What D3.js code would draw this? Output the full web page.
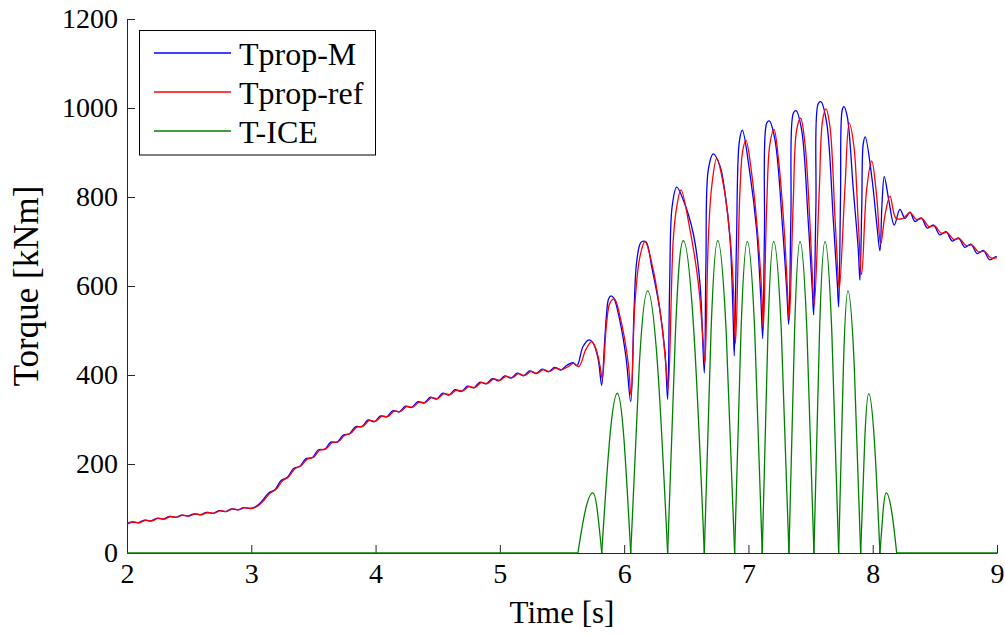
<!DOCTYPE html>
<html>
<head>
<meta charset="utf-8">
<script src="https://cdn.jsdelivr.net/npm/d3@7"></script>
<style>
  html, body { margin: 0; padding: 0; background: #fff; }
  svg { display: block; font-family: "Liberation Serif", "Times New Roman", serif; }
</style>
</head>
<body>
<svg id="chart" width="1005" height="636"></svg>
<script>
// Axis ticks
const xTicks = [2, 3, 4, 5, 6, 7, 8, 9];
const yTicks = [0, 200, 400, 600, 800, 1000, 1200];

// Series names (legend order)
const seriesNames = ["Tprop-M", "Tprop-ref", "T-ICE"];
const seriesColors = ["#0000ff", "#ff0000", "#008000"];

// Propeller torque, measured [time s, torque kNm]
const tpropM = [
  [2.00, 66], [2.04, 70], [2.09, 68], [2.14, 74], [2.19, 72], [2.24, 78], [2.29, 76], [2.34, 82],
  [2.39, 80], [2.44, 85], [2.49, 83], [2.54, 88], [2.59, 86], [2.64, 91], [2.69, 89], [2.74, 95],
  [2.79, 93], [2.84, 99], [2.89, 97], [2.94, 102], [2.99, 100], [3.04, 105], [3.09, 118], [3.14, 135],
  [3.19, 142], [3.24, 163], [3.29, 170], [3.34, 190], [3.39, 195], [3.44, 212], [3.49, 214], [3.54, 232],
  [3.59, 233], [3.64, 249], [3.69, 249], [3.74, 265], [3.79, 268], [3.84, 284], [3.89, 284], [3.94, 299],
  [3.99, 295], [4.04, 308], [4.09, 306], [4.14, 320], [4.19, 317], [4.24, 330], [4.29, 327], [4.34, 340],
  [4.39, 337], [4.44, 350], [4.49, 346], [4.54, 359], [4.59, 355], [4.64, 367], [4.69, 363], [4.74, 375],
  [4.79, 371], [4.84, 384], [4.89, 380], [4.94, 392], [4.99, 387], [5.04, 398], [5.09, 393], [5.14, 404],
  [5.19, 398], [5.24, 409], [5.29, 403], [5.34, 413], [5.39, 407], [5.44, 417], [5.49, 411], [5.54, 422],
  [5.588, 428], [5.621, 421], [5.669, 464], [5.717, 479], [5.752, 471], [5.792, 434], [5.819, 377],
  [5.842, 470], [5.858, 535], [5.874, 570], [5.894, 578], [5.918, 572], [5.967, 520], [6.015, 440], [6.053, 340],
  [6.079, 540], [6.099, 650], [6.127, 694], [6.144, 700], [6.176, 699], [6.224, 640], [6.288, 545], [6.329, 450], [6.350, 345],
  [6.366, 600], [6.386, 778], [6.423, 822], [6.476, 793], [6.556, 718], [6.610, 606], [6.645, 405],
  [6.658, 650], [6.677, 861], [6.717, 897], [6.771, 870], [6.811, 810], [6.852, 705], [6.876, 540], [6.886, 443],
  [6.904, 700], [6.927, 925], [6.951, 950], [7.012, 853], [7.066, 726], [7.099, 576], [7.115, 482],
  [7.129, 720], [7.147, 966], [7.168, 971], [7.214, 928], [7.276, 726], [7.308, 591], [7.324, 514],
  [7.342, 760], [7.361, 988], [7.383, 994], [7.428, 951], [7.482, 741], [7.514, 591], [7.525, 535],
  [7.543, 780], [7.562, 1010], [7.584, 1014], [7.630, 966], [7.683, 748], [7.715, 606], [7.726, 553],
  [7.741, 800], [7.755, 996], [7.769, 1003], [7.795, 981], [7.844, 816], [7.884, 681], [7.897, 613],
  [7.912, 780], [7.924, 920], [7.940, 935], [7.992, 846], [8.032, 741], [8.058, 679],
  [8.074, 780], [8.093, 846], [8.131, 790], [8.173, 737], [8.219, 772], [8.260, 752],
  [8.30, 766], [8.34, 745], [8.39, 753], [8.44, 730], [8.49, 737], [8.54, 715], [8.59, 722], [8.64, 701],
  [8.69, 708], [8.74, 687], [8.79, 694], [8.84, 673], [8.89, 680], [8.94, 659], [8.99, 666], [9.00, 665]
];

// Propeller torque, reference [time s, torque kNm]
const tpropRef = [
  [2.00, 65], [2.05, 70], [2.10, 68], [2.15, 74], [2.20, 72], [2.25, 78], [2.30, 76], [2.35, 82],
  [2.40, 80], [2.45, 85], [2.50, 83], [2.55, 88], [2.60, 86], [2.65, 91], [2.70, 89], [2.75, 95],
  [2.80, 93], [2.85, 99], [2.90, 97], [2.95, 102], [3.00, 100], [3.05, 105], [3.10, 118], [3.15, 134],
  [3.20, 143], [3.25, 162], [3.30, 171], [3.35, 189], [3.40, 196], [3.45, 211], [3.50, 215], [3.55, 231],
  [3.60, 234], [3.65, 248], [3.70, 250], [3.75, 264], [3.80, 269], [3.85, 283], [3.90, 285], [3.95, 298],
  [4.00, 296], [4.05, 307], [4.10, 307], [4.15, 319], [4.20, 318], [4.25, 329], [4.30, 328], [4.35, 339],
  [4.40, 338], [4.45, 349], [4.50, 347], [4.55, 358], [4.60, 356], [4.65, 366], [4.70, 364], [4.75, 374],
  [4.80, 372], [4.85, 383], [4.90, 381], [4.95, 391], [5.00, 388], [5.05, 397], [5.10, 394], [5.15, 403],
  [5.20, 399], [5.25, 408], [5.30, 404], [5.35, 412], [5.40, 408], [5.45, 416], [5.50, 412], [5.55, 419],
  [5.59, 426], [5.635, 419], [5.693, 458], [5.739, 475], [5.774, 458], [5.806, 420], [5.824, 392],
  [5.859, 517], [5.886, 562], [5.921, 571], [5.967, 531], [6.033, 427], [6.055, 355],
  [6.087, 562], [6.127, 666], [6.168, 700], [6.234, 636], [6.302, 516], [6.342, 404], [6.355, 370],
  [6.395, 703], [6.423, 778], [6.457, 816], [6.530, 726], [6.597, 606], [6.637, 471], [6.650, 426],
  [6.677, 703], [6.704, 822], [6.745, 887], [6.798, 829], [6.852, 711], [6.880, 590], [6.896, 471],
  [6.932, 816], [6.954, 904], [6.980, 928], [7.026, 853], [7.079, 703], [7.110, 570], [7.120, 503],
  [7.147, 778], [7.173, 920], [7.206, 952], [7.240, 889], [7.288, 726], [7.321, 553], [7.329, 524],
  [7.361, 793], [7.388, 951], [7.420, 977], [7.455, 920], [7.495, 741], [7.515, 620], [7.530, 557],
  [7.570, 816], [7.597, 973], [7.624, 998], [7.656, 958], [7.696, 756], [7.716, 650], [7.731, 593],
  [7.777, 822], [7.811, 966], [7.849, 913], [7.884, 741], [7.911, 626],
  [7.951, 816], [7.992, 881], [8.032, 801], [8.064, 694],
  [8.099, 760], [8.139, 802], [8.187, 752], [8.243, 752],
  [8.30, 765], [8.35, 750], [8.40, 751], [8.45, 734], [8.50, 735], [8.55, 719], [8.60, 720], [8.65, 705],
  [8.70, 706], [8.75, 691], [8.80, 692], [8.85, 677], [8.90, 678], [8.95, 663], [9.00, 663]
];

// Engine torque pulses [time s, torque kNm]; zero between pulses
const tIce = [
  [2.000, 0], [5.628, 0],
  [5.688, 96], [5.747, 135], [5.784, 96], [5.820, 0],
  [5.883, 254], [5.945, 359], [5.999, 254], [6.053, 0],
  [6.121, 417], [6.189, 589], [6.270, 417], [6.350, 0],
  [6.413, 497], [6.476, 702], [6.561, 497], [6.645, 0],
  [6.699, 497], [6.753, 702], [6.821, 497], [6.889, 0],
  [6.940, 496], [6.991, 700], [7.051, 496], [7.111, 0],
  [7.157, 496], [7.203, 700], [7.265, 496], [7.326, 0],
  [7.371, 496], [7.415, 700], [7.471, 496], [7.527, 0],
  [7.572, 496], [7.616, 700], [7.671, 496], [7.726, 0],
  [7.764, 417], [7.801, 589], [7.852, 417], [7.903, 0],
  [7.936, 254], [7.968, 358], [8.013, 254], [8.058, 0],
  [8.084, 96], [8.109, 135], [8.151, 96], [8.193, 0],
  [9.000, 0]
];

const svg = d3.select("#chart");
const x = d3.scaleLinear().domain([2, 9]).range([127, 997]);
const y = d3.scaleLinear().domain([0, 1200]).range([553, 19]);
const axisColor = "#262626";
const fontSize = 28;

// Axes (ticks point into the plot, no box)
const gx = svg.append("g").attr("transform", `translate(0,${y(0)})`)
  .call(d3.axisBottom(x).tickValues(xTicks).tickFormat(d3.format("d"))
    .tickSizeInner(-8).tickSizeOuter(0).tickPadding(10));
const gy = svg.append("g").attr("transform", `translate(${x(2)},0)`)
  .call(d3.axisLeft(y).tickValues(yTicks).tickFormat(d3.format("d"))
    .tickSizeInner(-8).tickSizeOuter(0).tickPadding(9));
[gx, gy].forEach(g => {
  g.select(".domain").attr("stroke", axisColor).attr("stroke-width", 1);
  g.selectAll(".tick line").attr("stroke", axisColor).attr("stroke-width", 1);
  g.selectAll(".tick text").attr("fill", "#000")
    .style("font-family", '"Liberation Serif", "Times New Roman", serif')
    .style("font-size", fontSize + "px");
});

// Series lines
const smooth = d3.line().x(d => x(d[0])).y(d => y(d[1])).curve(d3.curveCatmullRom.alpha(0.5));
const plot = svg.append("g").attr("fill", "none").attr("stroke-width", 1.3).attr("stroke-linejoin", "round");

plot.append("path").datum(tpropM).attr("stroke", seriesColors[0]).attr("d", smooth);
plot.append("path").datum(tpropRef).attr("stroke", seriesColors[1]).attr("d", smooth);

// Engine pulses: each pulse between two zeros is drawn as its own smooth arc
const pulse = d3.line().x(d => x(d[0])).y(d => y(d[1])).curve(d3.curveNatural);
const straight = d3.line().x(d => x(d[0])).y(d => y(d[1]));
const pieces = [];
let current = [tIce[0]];
for (let i = 1; i < tIce.length; i++) {
  current.push(tIce[i]);
  if (tIce[i][1] === 0) { pieces.push(current); current = [tIce[i]]; }
}
const iceGroup = plot.append("g").attr("stroke", seriesColors[2]);
pieces.forEach(p => iceGroup.append("path").datum(p).attr("d", p.length > 2 ? pulse : straight));

// Axis titles
svg.append("text").attr("x", (x(2) + x(9)) / 2).attr("y", 623).attr("text-anchor", "middle")
  .style("font-size", "31px").text("Time [s]");
svg.append("text").attr("transform", `translate(38,${(y(0) + y(1200)) / 2}) rotate(-90)`)
  .attr("text-anchor", "middle").style("font-size", "35px").text("Torque [kNm]");

// Legend
const legend = svg.append("g");
legend.append("rect").attr("x", 139.5).attr("y", 30.5).attr("width", 236).attr("height", 124.5)
  .attr("fill", "#fff").attr("stroke", "#000").attr("stroke-width", 1);
seriesNames.forEach((name, i) => {
  const ly = 53 + i * 39;
  legend.append("line").attr("x1", 154).attr("x2", 231).attr("y1", ly).attr("y2", ly)
    .attr("stroke", seriesColors[i]).attr("stroke-width", 1.3);
  legend.append("text").attr("x", 239).attr("y", ly + 12).style("font-size", "32px").text(name);
});
</script>
</body>
</html>
